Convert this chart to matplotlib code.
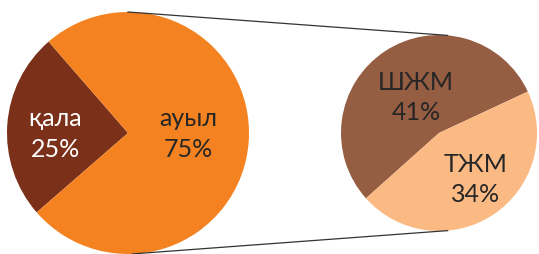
import matplotlib.pyplot as plt
import numpy as np

# Деректер
main_labels = ['қала', 'ауыл']
main_values = [25, 75]
main_colors = ['#7A3019', '#F58220']
main_text = ['white', '#262626']

sub_labels = ['ШЖМ', 'ТЖМ']
sub_values = [41, 34]
sub_colors = ['#955D42', '#FBBA84']
sub_text = ['#262626', '#262626']

plt.rcParams['font.family'] = ['Lato', 'DejaVu Sans']

fig = plt.figure(figsize=(5.39, 2.55), dpi=100)
ax = fig.add_axes([0, 0, 1, 1])

c1, r1 = (128, 121), 121
c2, r2 = (439, 121), 98

ax.pie(main_values, colors=main_colors, startangle=131, counterclock=True,
       center=c1, radius=r1, wedgeprops=dict(linewidth=0), frame=True)
ax.pie(sub_values, colors=sub_colors, startangle=25, counterclock=True,
       center=c2, radius=r2, wedgeprops=dict(linewidth=0), frame=True)
ax.set_xlim(0, 539)
ax.set_ylim(0, 255)
ax.set_aspect('equal')
ax.axis('off')

# Жалғаушы сызықтар
def pt(c, r, a):
    return c[0] + r * np.cos(np.radians(a)), c[1] + r * np.sin(np.radians(a))

for a1, a2 in [(90, 85), (-88, -85)]:
    p1, p2 = pt(c1, r1, a1), pt(c2, r2, a2)
    ax.plot([p1[0], p2[0]], [p1[1], p2[1]], color='#333333', lw=0.9)

# Белгілер
main_pos = [(0.6, 180), (0.5, 0)]
sub_pos = [(0.44, 122), (0.6, -51)]
for lab, v, col, (f, a) in zip(main_labels, main_values, main_text, main_pos):
    x, y = pt(c1, r1 * f, a)
    ax.text(x, y, f'{lab}\n{v}%', color=col, fontsize=18, ha='center',
            va='center', linespacing=1.4)
for lab, v, col, (f, a) in zip(sub_labels, sub_values, sub_text, sub_pos):
    x, y = pt(c2, r2 * f, a)
    ax.text(x, y, f'{lab}\n{v}%', color=col, fontsize=18, ha='center',
            va='center', linespacing=1.4)

fig.savefig('out.png', dpi=100)
